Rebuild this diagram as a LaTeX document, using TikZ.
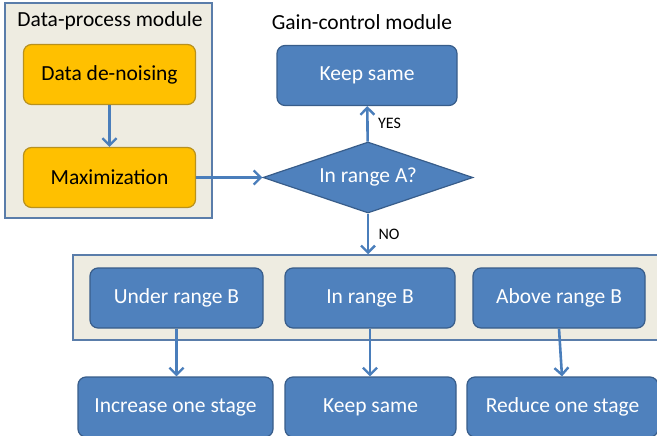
\documentclass[tikz,border=0pt]{standalone}
\usepackage{fontspec}
\setmainfont{Carlito}
\usepackage{tikz}
\usetikzlibrary{arrows.meta,shapes.geometric}
\definecolor{boxblue}{HTML}{4F81BD}
\definecolor{boxline}{HTML}{385D8A}
\definecolor{boxgold}{HTML}{FFC000}
\definecolor{goldline}{HTML}{B8911E}
\definecolor{panelfill}{HTML}{EEECE1}
\definecolor{panelline}{HTML}{5A7DAA}
\definecolor{arrowblue}{HTML}{4A7EBB}
\tikzset{
    panel/.style={draw=panelline, fill=panelfill, line width=1.5pt, inner sep=0pt},
    title/.style={font=\fontsize{21.5}{24}\selectfont, text=black},
    bluebox/.style={draw=boxline, fill=boxblue, line width=1.2pt, rounded corners=8pt,
        text=white, font=\fontsize{21.5}{24}\selectfont, minimum height=60pt, inner sep=0pt},
    goldbox/.style={draw=goldline, fill=boxgold, line width=1.2pt, rounded corners=8pt,
        text=black, font=\fontsize{21.5}{24}\selectfont, minimum width=172pt, minimum height=60pt, inner sep=0pt},
    decision/.style={diamond, draw=boxline, fill=boxblue, line width=1.2pt, aspect=3,
        text=white, font=\fontsize{21.5}{24}\selectfont, minimum width=210pt, minimum height=71pt, inner sep=0pt},
    flow/.style={draw=arrowblue, line width=2.6pt, -{Straight Barb[length=7pt,width=14pt,line width=2.4pt]}},
    answer/.style={font=\fontsize{16}{18}\selectfont, text=black}
}
\begin{document}
\begin{tikzpicture}[x=1pt,y=-1pt]
        \useasboundingbox (0,0) rectangle (657,436);
        \clip (0,0) rectangle (657,436);
        % module panels
        \node[panel, minimum width=207pt, minimum height=215pt] (datapanel) at (108.5,110.5) {};
        \node[panel, minimum width=592pt, minimum height=85pt] (rangepanel) at (369,297.5) {};
        \node[title] (datatitle) at (110,21) {Data-process module};
        \node[title] (gaintitle) at (362,22) {Gain-control module};
        % data process
        \node[goldbox] (denoise) at (109.5,74.5) {Data de-noising};
        \node[goldbox] (maxim) at (109.5,177.5) {Maximization};
        % gain control
        \node[decision] (rangeA) at (368,177.5) {In range A?};
        \node[bluebox, minimum width=180pt] (keepA) at (367,75.5) {Keep same};
        \node[bluebox, minimum width=173pt] (under) at (176.5,298) {Under range B};
        \node[bluebox, minimum width=170pt] (inB) at (370,298) {In range B};
        \node[bluebox, minimum width=172pt] (above) at (559,298) {Above range B};
        \node[bluebox, minimum width=195pt] (incr) at (175.5,407) {Increase one stage};
        \node[bluebox, minimum width=171pt] (keepB) at (370.5,407) {Keep same};
        \node[bluebox, minimum width=191pt] (reduce) at (562.5,407) {Reduce one stage};
        % connectors
        \draw[flow] (denoise) -- (maxim);
        \draw[flow] (maxim) -- (rangeA);
        \draw[flow] (rangeA) -- (keepA) node[answer, midway, right=6pt] {YES};
        \draw[flow] (rangeA) -- (rangeA |- rangepanel.north) node[answer, midway, right=6pt] {NO};
        \draw[flow] (under) -- (under |- incr.north);
        \draw[flow] (inB) -- (inB |- keepB.north);
        \draw[flow] (above.south) -- ([xshift=3pt]above |- reduce.north);
    \end{tikzpicture}
\end{document}
